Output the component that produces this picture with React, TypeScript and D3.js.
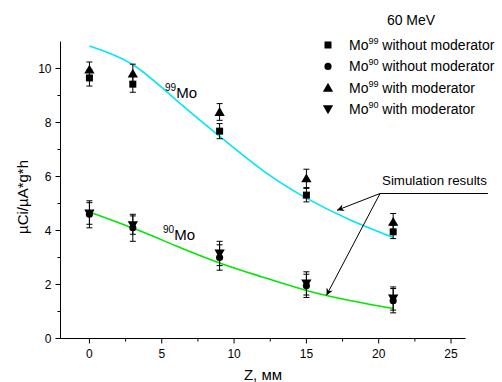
import * as d3 from 'd3'

// measurement positions, Z in mm
const zPoints = [0, 3, 9, 15, 21]

// measured yields, µCi/µA*g*h
const mo99Without = [9.65, 9.42, 7.68, 5.31, 3.95]
const mo99WithoutErr = [0.3, 0.3, 0.28, 0.25, 0.25]
const mo90Without = [4.6, 4.1, 3.0, 1.95, 1.4]
const mo90WithoutErr = [0.5, 0.5, 0.47, 0.43, 0.45]
const mo99With = [9.96, 9.81, 8.39, 5.93, 4.32]
const mo99WithErr = [0.28, 0.35, 0.31, 0.34, 0.31]
const mo90With = [4.63, 4.2, 3.15, 2.04, 1.48]
const mo90WithErr = [0.4, 0.34, 0.45, 0.43, 0.43]

// simulation curves
const simZ = [0, 3, 6, 9, 12, 15, 18, 21]
const sim99 = [10.83, 10.14, 8.83, 7.49, 6.22, 5.2, 4.4, 3.74]
const sim90 = [4.69, 4.09, 3.43, 2.8, 2.27, 1.78, 1.41, 1.11]

const xTicks = [0, 5, 10, 15, 20, 25]
const yTicks = [0, 2, 4, 6, 8, 10]

const legendItems = [
  { iso: '99', text: ' without moderator', shape: 'square' },
  { iso: '90', text: ' without moderator', shape: 'circle' },
  { iso: '99', text: ' with moderator', shape: 'up' },
  { iso: '90', text: ' with moderator', shape: 'down' },
]

const W = 502
const H = 382
const font = '"Liberation Sans", Arial, sans-serif'

function symbolPath(shape: string) {
  if (shape === 'square') return d3.symbol(d3.symbolSquare, 49)()
  if (shape === 'circle') return d3.symbol(d3.symbolCircle, 40)()
  return d3.symbol(d3.symbolTriangle, 46)()
}

function Marker({ shape, cx, cy }: { shape: string; cx: number; cy: number }) {
  const rot = shape === 'down' ? ' rotate(180)' : ''
  const dy = shape === 'up' ? 1 : shape === 'down' ? -1 : 0
  return <path d={symbolPath(shape) || ''} transform={`translate(${cx},${cy + dy})${rot}`} fill="#000" />
}

export default function App() {
  const x = d3.scaleLinear().domain([-2, 26]).range([60.5, 465.5])
  const y = d3.scaleLinear().domain([0, 11]).range([338.5, 41.5])

  const xMinor = d3.range(-2.5, 26.1, 2.5).filter(v => v >= -2 && v <= 26 && v % 5 !== 0)
  const yMinor = d3.range(1, 11, 2)

  // smooth spline through the simulated values
  const line = d3.line<number>()
    .x((_, i) => x(simZ[i]))
    .y(d => y(d))
    .curve(d3.curveNatural)

  const series = [
    { vals: mo90Without, errs: mo90WithoutErr, shape: 'circle' },
    { vals: mo90With, errs: mo90WithErr, shape: 'down' },
    { vals: mo99Without, errs: mo99WithoutErr, shape: 'square' },
    { vals: mo99With, errs: mo99WithErr, shape: 'up' },
  ]

  // annotation anchor points in data coords
  const annFrom = [20.09, 5.37]
  const annTo99 = [17.12, 4.75]
  const annTo90 = [16.39, 1.6]
  const annEndX = 27.55

  return (
    <svg width={W} height={H} style={{ position: 'absolute', left: 0, top: 0, fontFamily: font }}>
      <defs>
        <marker id="arr" viewBox="0 0 10 10" refX="10" refY="5" markerWidth="9" markerHeight="7" orient="auto" markerUnits="userSpaceOnUse">
          <path d="M0,0 L10,5 L0,10 L3,5 Z" fill="#000" />
        </marker>
      </defs>
      <rect width={W} height={H} fill="#fff" />

      {/* simulation curves */}
      <path d={line(sim99) || ''} fill="none" stroke="#00e6f6" strokeWidth={1.6} />
      <path d={line(sim90) || ''} fill="none" stroke="#00e800" strokeWidth={1.6} />

      {/* error bars */}
      {series.map((s, si) => s.vals.map((v, i) => {
        const cx = x(zPoints[i])
        const y1 = y(v + s.errs[i])
        const y2 = y(v - s.errs[i])
        return (
          <g key={`e${si}-${i}`} stroke="#000" strokeWidth={1}>
            <line x1={cx} x2={cx} y1={y1} y2={y2} />
            <line x1={cx - 3} x2={cx + 3} y1={y1} y2={y1} />
            <line x1={cx - 3} x2={cx + 3} y1={y2} y2={y2} />
          </g>
        )
      }))}

      {/* markers */}
      {series.map((s, si) => s.vals.map((v, i) => (
        <Marker key={`m${si}-${i}`} shape={s.shape} cx={x(zPoints[i])} cy={y(v)} />
      )))}

      {/* axes */}
      <g stroke="#000" strokeWidth={1}>
        <line x1={x(-2)} x2={x(26)} y1={y(0)} y2={y(0)} />
        <line x1={x(-2)} x2={x(-2)} y1={y(0)} y2={y(11)} />
        {xTicks.map(t => <line key={`xt${t}`} x1={x(t)} x2={x(t)} y1={y(0)} y2={y(0) + 5} />)}
        {xMinor.map(t => <line key={`xm${t}`} x1={x(t)} x2={x(t)} y1={y(0)} y2={y(0) + 3} />)}
        {yTicks.map(t => <line key={`yt${t}`} x1={x(-2) - 5} x2={x(-2)} y1={y(t)} y2={y(t)} />)}
        {yMinor.map(t => <line key={`ym${t}`} x1={x(-2) - 3} x2={x(-2)} y1={y(t)} y2={y(t)} />)}
      </g>
      <g fontSize={12} fill="#000">
        {xTicks.map(t => (
          <text key={`xl${t}`} x={x(t)} y={y(0) + 19} textAnchor="middle">{t}</text>
        ))}
        {yTicks.map(t => (
          <text key={`yl${t}`} x={x(-2) - 9} y={y(t) + 4.5} textAnchor="end">{t}</text>
        ))}
      </g>

      {/* axis titles */}
      <text x={263} y={380} fontSize={15} textAnchor="middle">Z, мм</text>
      <text transform="translate(28,197) rotate(-90)" fontSize={15} textAnchor="middle">µCi/µA*g*h</text>

      {/* curve labels */}
      <text x={x(5.78)} y={y(8.89)} fontSize={15} textAnchor="start">
        <tspan fontSize={10} dx={-8} dy={-7}>99</tspan>
        <tspan dy={7}>Mo</tspan>
      </text>
      <text x={x(5.71)} y={y(3.64)} fontSize={15} textAnchor="start">
        <tspan fontSize={10} dx={-9} dy={-7}>90</tspan>
        <tspan dy={7}>Mo</tspan>
      </text>

      {/* annotation */}
      <text x={x(annFrom[0]) + 2} y={y(annFrom[1]) - 9} fontSize={13.3}>Simulation results</text>
      <g stroke="#000" strokeWidth={1}>
        <line x1={x(annFrom[0])} x2={x(annEndX)} y1={y(annFrom[1])} y2={y(annFrom[1])} />
        <line x1={x(annFrom[0])} y1={y(annFrom[1])} x2={x(annTo99[0])} y2={y(annTo99[1])} markerEnd="url(#arr)" />
        <line x1={x(annFrom[0])} y1={y(annFrom[1])} x2={x(annTo90[0])} y2={y(annTo90[1])} markerEnd="url(#arr)" />
      </g>

      {/* legend */}
      <text x={411} y={25} fontSize={14} textAnchor="middle">60 MeV</text>
      {legendItems.map((it, i) => {
        const ly = 45 + i * 21.4
        return (
          <g key={`lg${i}`}>
            <Marker shape={it.shape} cx={328} cy={ly} />
            <text x={349} y={ly + 5} fontSize={14}>
              Mo<tspan fontSize={9} dy={-6}>{it.iso}</tspan><tspan dy={6}>{it.text}</tspan>
            </text>
          </g>
        )
      })}
    </svg>
  )
}
